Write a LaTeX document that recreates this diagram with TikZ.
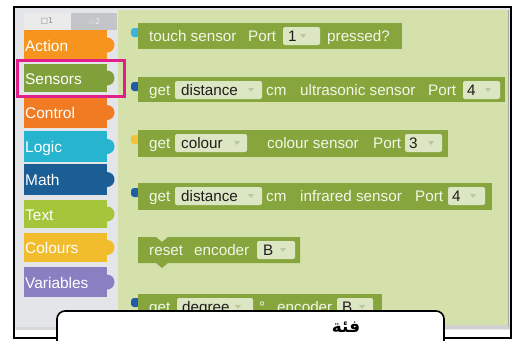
\documentclass[tikz,border=0pt]{standalone}
\usepackage{fontspec}
\newfontfamily\uifont{Liberation Sans}
\newfontfamily\symfont{DejaVu Sans}
\newfontfamily\arabicfont[Script=Arabic]{DejaVu Sans}
\TeXXeTstate=1
\definecolor{ws}{HTML}{D5E1AB}
\definecolor{blk}{HTML}{86A63D}
\definecolor{fld}{HTML}{DCE6C2}
\definecolor{tbx}{HTML}{E4E5E8}
\definecolor{tabA}{HTML}{EBEBEB}
\definecolor{tabB}{HTML}{C3C5C8}
\definecolor{cAction}{HTML}{F7941D}
\definecolor{cSensors}{HTML}{7FA03A}
\definecolor{cControl}{HTML}{F07B22}
\definecolor{cLogic}{HTML}{27B4CF}
\definecolor{cMath}{HTML}{1B5E96}
\definecolor{cText}{HTML}{A5C63B}
\definecolor{cColours}{HTML}{F1BD2C}
\definecolor{cVariables}{HTML}{8A7FC0}
\definecolor{magent}{HTML}{E01F8A}
\definecolor{tCyan}{HTML}{3AB4DC}
\definecolor{tBlue}{HTML}{1F5EA6}
\definecolor{tYellow}{HTML}{F3C13A}
\definecolor{arrowc}{HTML}{B9C99E}
\definecolor{lighttxt}{HTML}{F3F6E8}
\definecolor{darktxt}{HTML}{1E1E1E}
\newcommand\ddarrow[2]{\fill[arrowc] ({#1-3},{#2-2}) -- ({#1+3},{#2-2}) -- (#1,{#2+2}) -- cycle;}
\newcommand\catblock[5]{% top, bottom, color, name, label
  \fill[#3] (24,#1) rectangle (107,#2);
  \fill[#3] (107,{(#1+#2)/2}) circle (7.5bp);
  \node[catlbl] (#4) at (25,{(#1+#2)/2+6}) {#5};}
\begin{document}
\begin{tikzpicture}[x=1bp,y=-1bp,
  catlbl/.style={anchor=base west,inner sep=0pt,text=white,font=\uifont\fontsize{15.5}{18}\selectfont},
  btxt/.style={anchor=base west,inner sep=0pt,text=lighttxt,font=\uifont\fontsize{15.3}{18}\selectfont},
  ftxt/.style={anchor=base west,inner sep=0pt,text=darktxt,font=\uifont\fontsize{15.3}{18}\selectfont},
  fieldbox/.style={fill=fld,rounded corners=2bp},
  blockbox/.style={fill=blk},
  conntab/.style={rounded corners=3bp}]
\useasboundingbox (0,0) rectangle (521,340);
\clip (0,0) rectangle (521,340);
\fill[white] (0,0) rectangle (521,340);
% screenshot background
\fill[tbx] (15,8) rectangle (510,330);
\fill[ws] (118,10) rectangle (508,325);
\fill[black!18] (118,325) rectangle (510,329);
\draw[black!35,line width=0.8bp] (508.5,10) -- (508.5,326);
\fill[black!15] (16,327) rectangle (118,330);
% tabs
\fill[tabA] (24,13) rectangle (71,30);
\fill[tabB] (71,13) rectangle (117,30);
\node[font=\symfont\fontsize{8}{9}\selectfont,text=black!45] (tab1) at (47,21.5) {□1};
\node[font=\symfont\fontsize{8}{9}\selectfont,text=black!8] (tab2) at (94,21.5) {☆2};
% categories
\catblock{30}{60}{cAction}{cat1}{Action}
\catblock{64}{92}{cSensors}{cat2}{Sensors}
\catblock{97}{128}{cControl}{cat3}{Control}
\catblock{131}{162}{cLogic}{cat4}{Logic}
\catblock{164}{195}{cMath}{cat5}{Math}
\catblock{200}{228}{cText}{cat6}{Text}
\catblock{233}{262}{cColours}{cat7}{Colours}
\catblock{267}{297}{cVariables}{cat8}{Variables}
\draw[magent,line width=2.6bp] (17.5,60.5) rectangle (124.5,96.5);
% block 1
\fill[conntab,tCyan] (131,28) rectangle (140,37);
\fill[blockbox] (138,23) rectangle (402,49);
\node[btxt] (b1a) at (149,41.5) {touch sensor};
\node[btxt] (b1b) at (248,41.5) {Port};
\fill[fieldbox] (283,27) rectangle (320,45);
\node[ftxt] (b1c) at (288,41.5) {1};
\ddarrow{303}{36}
\node[btxt] (b1d) at (327,41.5) {pressed?};
% block 2
\fill[conntab,tBlue] (131,82) rectangle (140,91);
\fill[blockbox] (138,77) rectangle (505,102);
\node[btxt] (b2a) at (149,95) {get};
\fill[fieldbox] (175,81) rectangle (262,99);
\node[ftxt] (b2b) at (181,95) {distance};
\ddarrow{251}{90}
\node[btxt] (b2c) at (266,95) {cm};
\node[btxt] (b2d) at (300,95) {ultrasonic sensor};
\node[btxt] (b2e) at (428,95) {Port};
\fill[fieldbox] (463,81) rectangle (500,99);
\node[ftxt] (b2f) at (467,95) {4};
\ddarrow{488}{90}
% block 3
\fill[conntab,tYellow] (131,135) rectangle (140,144);
\fill[blockbox] (138,130) rectangle (448,157);
\node[btxt] (b3a) at (149,148.5) {get};
\fill[fieldbox] (175,134) rectangle (247,152);
\node[ftxt] (b3b) at (181,148.5) {colour};
\ddarrow{237}{143}
\node[btxt] (b3c) at (267,148.5) {colour sensor};
\node[btxt] (b3d) at (373,148.5) {Port};
\fill[fieldbox] (405,134) rectangle (442,152);
\node[ftxt] (b3e) at (409,148.5) {3};
\ddarrow{431}{143}
% block 4
\fill[conntab,tBlue] (131,188) rectangle (140,197);
\fill[blockbox] (138,183) rectangle (492,210);
\node[btxt] (b4a) at (149,201.5) {get};
\fill[fieldbox] (175,187) rectangle (262,205);
\node[ftxt] (b4b) at (181,201.5) {distance};
\ddarrow{251}{196}
\node[btxt] (b4c) at (266,201.5) {cm};
\node[btxt] (b4d) at (300,201.5) {infrared sensor};
\node[btxt] (b4e) at (415,201.5) {Port};
\fill[fieldbox] (448,187) rectangle (485,205);
\node[ftxt] (b4f) at (452,201.5) {4};
\ddarrow{473}{196}
% block 5 (statement)
\fill[blockbox] (138,237) -- (156,237) -- (162,242) -- (168,237) -- (300,237) -- (300,263)
  -- (168,263) -- (162,268) -- (156,263) -- (138,263) -- cycle;
\node[btxt] (b5a) at (149,255) {reset};
\node[btxt] (b5b) at (194,255) {encoder};
\fill[fieldbox] (257,241) rectangle (295,259);
\node[ftxt] (b5c) at (263,255) {B};
\ddarrow{283}{250}
% block 6
\fill[conntab,tBlue] (131,298) rectangle (140,307);
\fill[blockbox] (138,294) rectangle (382,320);
\node[btxt] (b6a) at (149,312) {get};
\fill[fieldbox] (177,298) rectangle (253,316);
\node[ftxt] (b6b) at (182,312) {degree};
\ddarrow{238}{307}
\node[btxt] (b6c) at (259,312) {°};
\node[btxt] (b6d) at (277,312) {encoder};
\fill[fieldbox] (337,298) rectangle (373,316);
\node[ftxt] (b6e) at (342,312) {B};
\ddarrow{362}{307}
% outer frame
\draw[black,line width=1.6bp] (14,7) rectangle (511,338);
% caption box
\filldraw[fill=white,draw=black,line width=1.6bp] (57,350) -- (57,319) arc[start angle=180,end angle=90,radius=8bp]
  -- (436,311) arc[start angle=90,end angle=0,radius=8bp] -- (444,350);
\node[font=\arabicfont\bfseries\fontsize{17}{20}\selectfont,text=black] (cap) at (346,327) {\beginR فئة\endR};
\end{tikzpicture}
\end{document}
